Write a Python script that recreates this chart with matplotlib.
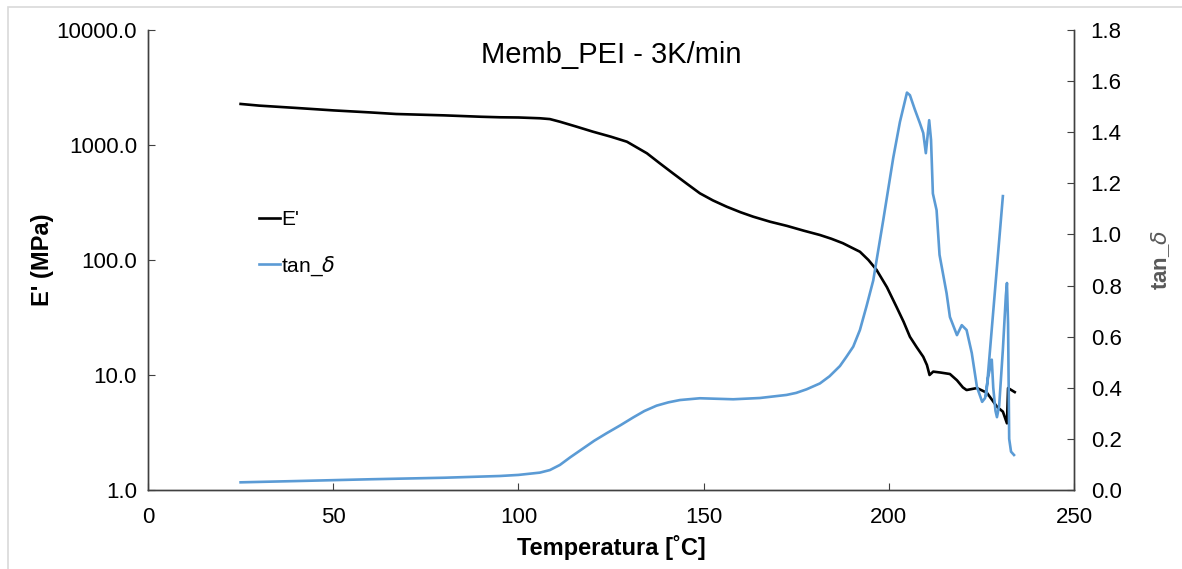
import numpy as np
import matplotlib
matplotlib.use("Agg")
import matplotlib.pyplot as plt
from matplotlib.patches import Rectangle

plt.rcParams['font.family'] = ['Liberation Sans', 'DejaVu Sans']
plt.rcParams['mathtext.fontset'] = 'dejavusans'

# E' storage modulus (MPa) vs temperature
temp_e = [25, 30, 40, 50, 60, 67, 80, 90, 95, 100, 105.8, 108.5, 111.2, 115.5, 120.1,
          125, 129.3, 134.7, 138, 141.7, 145.5, 149, 152.5, 156.2, 160, 163.4, 168,
          172.5, 177, 181.4, 184.5, 187.6, 190, 192.2, 194.5, 196.7, 199.5, 202.1,
          204, 205.7, 207.5, 209.3, 210.3, 211, 212, 214, 216.5, 218.4, 220, 221,
          223.8, 226.5, 228, 229.2, 230.8, 231.9, 232.2, 234]
e_mod = [2275, 2200, 2100, 2000, 1920, 1860, 1810, 1760, 1742, 1735, 1708, 1680, 1594,
         1450, 1306, 1180, 1068, 847, 700, 568, 460, 380, 330, 291, 260, 238, 215,
         198, 180, 165, 153, 140, 128, 118, 100, 82, 58, 39, 29, 21.5, 17.5, 14.4,
         12.2, 10.0, 10.7, 10.5, 10.2, 9.0, 7.8, 7.4,
         7.7, 7.0, 6.0, 5.3, 4.8, 3.8, 7.7, 7.1]

# tan delta vs temperature (nan = break in the line)
temp_t = [25, 40, 60, 80, 95, 100, 105.8, 108.5, 111.2, 114, 117.5, 120.5, 123.8, 127.5,
          131, 134, 137.3, 140.5, 143.6, 149, 153.5, 158, 165.2, 172.4, 175, 177.8,
          181.4, 184, 186.8, 188.5, 190.4, 192.2, 194, 195.8, 198.5, 201.2, 203,
          204.9, 205.7, 207, 208.4, 209.3, 210, 210.9, 211.4, 211.9, 212.9, 213.7,
          215.6, 216.5, 218.4, 219.7, 221, 222.4, 223.8, 225.2, 226.0, 226.8, 227.8,
          228.2, 228.8, 229.2, 229.8, 230.8, 231.6, 231.9, 232.2, 232.5, 233.0, 233.8,
          np.nan, 226.3, 230.8]
tan_d = [0.030, 0.035, 0.042, 0.048, 0.0548, 0.059, 0.068, 0.078, 0.098, 0.128, 0.163,
         0.193, 0.222, 0.253, 0.284, 0.309, 0.33, 0.343, 0.352, 0.359, 0.357, 0.355,
         0.36, 0.372, 0.38, 0.394, 0.417, 0.445, 0.485, 0.52, 0.561, 0.626, 0.72,
         0.82, 1.056, 1.30, 1.44, 1.555, 1.545, 1.49, 1.435, 1.397,
         1.318, 1.447, 1.37, 1.16, 1.095, 0.92, 0.77, 0.677, 0.606, 0.645, 0.626, 0.536,
         0.403, 0.345, 0.36, 0.44, 0.51, 0.40, 0.31, 0.285, 0.33, 0.55, 0.76, 0.81,
         0.65, 0.20, 0.15, 0.137, np.nan, 0.37, 1.15]

fig = plt.figure(figsize=(11.82, 5.69), dpi=100)
fig.patches.append(Rectangle((8 / 1182, -0.1), 1.2, (569 - 7) / 569 + 0.1,
                             transform=fig.transFigure, fill=False,
                             edgecolor='#d9d9d9', linewidth=1.2))

ax = fig.add_axes([148 / 1182, 79 / 569, 926 / 1182, 460 / 569])
ax2 = ax.twinx()

l1, = ax.plot(temp_e, e_mod, color='black', lw=1.9, label="E'")
l2, = ax2.plot(temp_t, tan_d, color='#5b9bd5', lw=1.9, label=r"tan_$\delta$")

ax.set_yscale('log')
ax.set_ylim(1, 10000)
ax.set_xlim(0, 250)
ax2.set_ylim(0, 1.8)
ax.set_yticks([1, 10, 100, 1000, 10000])
ax.set_yticklabels(['1.0', '10.0', '100.0', '1000.0', '10000.0'])
ax.minorticks_off()
ax.set_xticks([0, 50, 100, 150, 200, 250])
ax2.set_yticks(np.arange(0, 1.81, 0.2))
ax2.set_yticklabels([f'{v:.1f}' for v in np.arange(0, 1.81, 0.2)])

for a in (ax, ax2):
    a.spines['top'].set_visible(False)
    for s in a.spines.values():
        s.set_color('#404040')
        s.set_linewidth(1.0)
ax.tick_params(axis='both', direction='in', length=5, labelsize=16, color='#404040', pad=8)
ax.tick_params(axis='x', pad=12)
ax2.tick_params(axis='y', direction='in', length=5, labelsize=16, color='#404040', pad=12)

ax.set_xlabel('Temperatura [˚C]', fontsize=17, fontweight='bold', labelpad=5)
ax.set_ylabel("E' (MPa)", fontsize=17, fontweight='bold', labelpad=2)
ax2.set_ylabel(r"tan_$\delta$", fontsize=16, fontweight='bold', color='#595959', labelpad=20)

ax.text(0.5, 0.945, 'Memb_PEI - 3K/min', transform=ax.transAxes, ha='center', va='center',
        fontsize=21)

ax.legend([l1, l2], [l1.get_label(), l2.get_label()], loc='center left',
          bbox_to_anchor=(0.1, 0.535), frameon=False, fontsize=15, handlelength=1.0,
          handletextpad=0.05, labelspacing=1.2)

fig.savefig('out.png', dpi=100)
